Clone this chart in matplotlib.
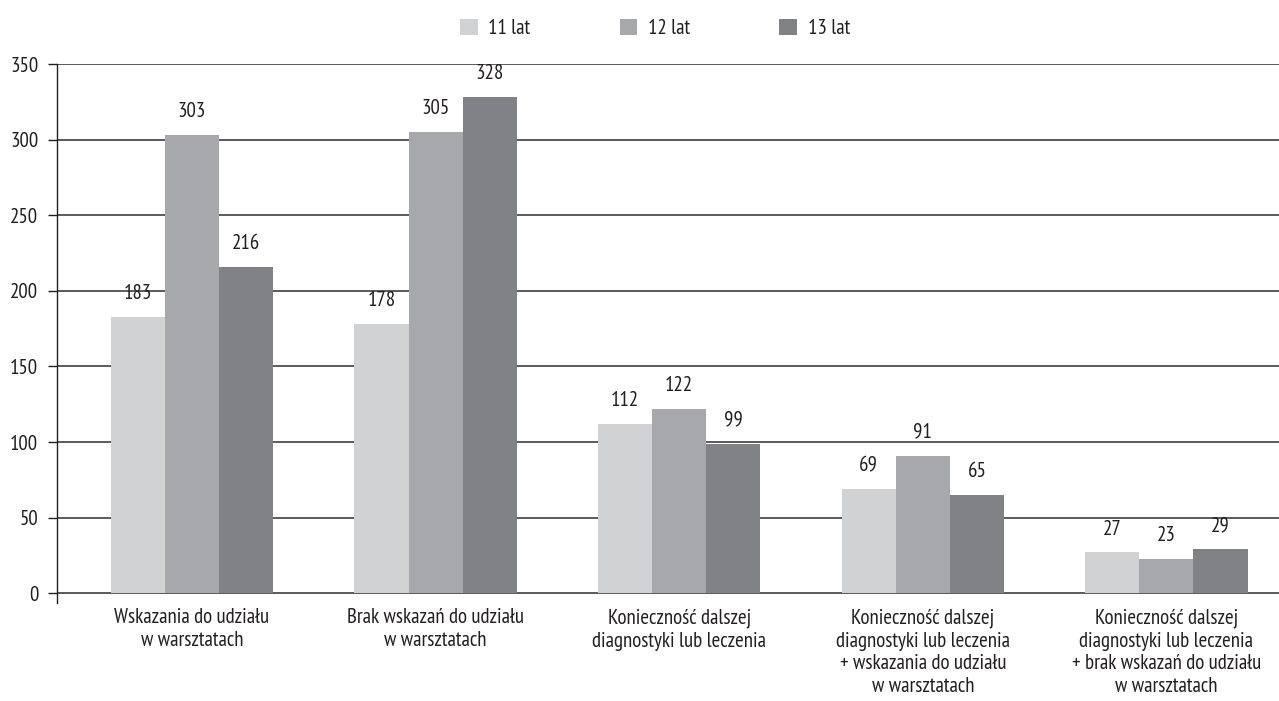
import matplotlib
matplotlib.use('Agg')
import matplotlib.pyplot as plt
from matplotlib import font_manager
import numpy as np

# ── Dane ─────────────────────────────────────────────────────────────────────
kategorie = [
    'Wskazania do udziału\nw warsztatach',
    'Brak wskazań do udziału\nw warsztatach',
    'Konieczność dalszej\ndiagnostyki lub leczenia',
    'Konieczność dalszej\ndiagnostyki lub leczenia\n+ wskazania do udziału\nw warsztatach',
    'Konieczność dalszej\ndiagnostyki lub leczenia\n+ brak wskazań do udziału\nw warsztatach',
]
serie = ['11 lat', '12 lat', '13 lat']
lat11 = [183, 178, 112, 69, 27]
lat12 = [303, 305, 122, 91, 23]
lat13 = [216, 328, 99, 65, 29]
y_ticks = [0, 50, 100, 150, 200, 250, 300, 350]

kolory = ['#d1d2d4', '#a7a8ab', '#808285']
tekst = '#231f20'

# wąski krój pisma
dostepne = {f.name for f in font_manager.fontManager.ttflist}
for nazwa in ['PT Sans Narrow', 'Fira Sans Condensed', 'Roboto Condensed', 'Roboto']:
    if nazwa in dostepne:
        plt.rcParams['font.family'] = [nazwa, 'DejaVu Sans']
        break

fs = 15

fig = plt.figure(figsize=(12.79, 7.01), dpi=100)
ax = fig.add_axes([57 / 1279, 1 - 602.7 / 701, 1 - 57 / 1279, (602.7 - 64) / 701])

x = np.arange(len(kategorie))
w = 0.222
for i, (vals, nazwa) in enumerate(zip([lat11, lat12, lat13], serie)):
    pos = x + (i - 1) * w
    bars = ax.bar(pos, vals, width=w, color=kolory[i], label=nazwa, zorder=3, linewidth=0)
    for b, v in zip(bars, vals):
        ax.annotate(str(v), (b.get_x() + b.get_width() / 2, v), xytext=(0, 10),
                    textcoords='offset points', ha='center', va='bottom',
                    fontsize=fs, color=tekst)

ax.set_xlim(-0.554, 4.462)
ax.set_ylim(-6.2, 350)
ax.set_yticks(y_ticks)
ax.set_yticklabels([str(t) for t in y_ticks])
for t in y_ticks:
    ax.axhline(t, color='#5a5a5a', linewidth=1.4, zorder=1)

ax.set_xticks(x)
ax.set_xticklabels(kategorie, fontsize=fs, color=tekst, linespacing=1.25)
ax.tick_params(axis='x', length=0, pad=4)
ax.tick_params(axis='y', length=6.5, width=1, direction='out', pad=7,
               labelsize=fs, labelcolor=tekst, color='#231f20')

for s in ['top', 'right', 'bottom']:
    ax.spines[s].set_visible(False)
ax.spines['left'].set_color('#231f20')
ax.spines['left'].set_linewidth(1.0)
ax.spines['left'].set_zorder(4)

leg = fig.legend(loc='upper center', bbox_to_anchor=(0.512, 1.0), ncol=3, frameon=False,
                 fontsize=fs, handlelength=0.85, handleheight=0.85, handletextpad=0.5,
                 columnspacing=4.3)
for t in leg.get_texts():
    t.set_color(tekst)

fig.savefig('out.png', dpi=100)
